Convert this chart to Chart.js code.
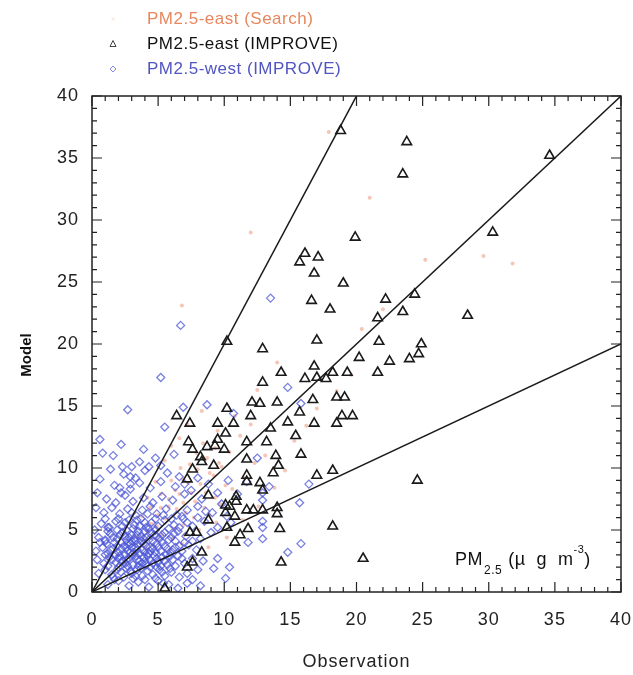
<!DOCTYPE html>
<html>
<head>
<meta charset="utf-8">
<script src="https://cdn.jsdelivr.net/npm/chart.js@4.4.0/dist/chart.umd.min.js"></script>
<style>
  html, body { margin: 0; padding: 0; background: #fff; }
</style>
</head>
<body>
<canvas id="grafico" width="633" height="675"></canvas>
<script>
// Dados (x = observação, y = modelo)
const eastImprove = [
  [18.8,37.2],[23.8,36.3],[34.6,35.2],[23.5,33.7],[19.9,28.6],[30.3,29.0],[16.1,27.3],[17.1,27.0],
  [15.7,26.6],[16.8,25.7],[19.0,24.9],[16.6,23.5],[18.0,22.8],[22.2,23.6],[24.4,24.0],[23.5,22.6],
  [21.6,22.1],[28.4,22.3],[17.0,20.3],[21.7,20.2],[24.9,20.0],[24.7,19.2],[24.0,18.8],[22.5,18.6],
  [20.2,18.9],[10.2,20.2],[12.9,19.6],[16.8,18.2],[14.3,17.7],[18.2,17.7],[19.3,17.7],[16.1,17.2],
  [17.0,17.3],[17.7,17.2],[21.6,17.7],[12.9,16.9],[12.1,15.3],[12.7,15.2],[14.0,15.3],[16.7,15.5],
  [18.5,15.7],[19.1,15.7],[15.7,14.5],[18.9,14.2],[19.7,14.2],[10.2,14.8],[6.4,14.2],[9.5,13.6],
  [10.7,13.6],[12.0,14.2],[14.8,13.7],[16.8,13.6],[18.5,13.6],[7.4,13.6],[10.1,12.8],[13.5,13.2],
  [15.4,12.6],[11.7,12.1],[13.2,12.1],[7.3,12.1],[7.6,11.5],[8.7,11.7],[9.3,11.8],[10.0,11.5],
  [8.2,10.9],[8.3,10.5],[11.7,10.7],[13.9,11.0],[15.8,11.1],[7.6,9.9],[9.2,10.2],[14.1,10.2],
  [13.7,9.6],[17.0,9.4],[18.2,9.8],[7.2,9.1],[11.7,9.4],[11.7,8.9],[12.7,8.8],[12.9,8.2],
  [10.9,7.7],[10.9,7.3],[8.8,7.8],[10.4,6.9],[11.7,6.6],[12.2,6.6],[12.9,6.6],[14.0,6.8],
  [14.0,6.3],[10.1,7.0],[18.2,5.3],[11.2,4.6],[11.8,5.1],[10.8,4.0],[14.2,5.1],[20.5,2.7],
  [8.3,3.2],[7.2,2.0],[7.6,2.4],[24.6,9.0],[10.1,6.4],[8.8,5.8],[10.2,5.2],[7.4,4.8],
  [7.9,4.8],[5.5,0.3],[14.3,2.4],[10.8,6.1],[9.5,12.3]
];

const westImprove = [
  // pontos afastados
  [13.5,23.7],[6.7,21.5],[5.2,17.3],[6.9,14.9],[8.7,15.1],[10.7,14.4],[5.5,13.3],[2.2,11.9],
  [4.8,10.8],[2.3,10.1],[3.0,10.1],[4.3,10.1],[2.9,9.3],[2.9,8.7],[2.1,8.4],[14.8,16.5],
  [15.8,15.2],[12.5,10.8],[10.3,9.0],[11.7,8.9],[13.4,8.5],[12.9,8.0],[12.9,7.4],[15.7,7.2],
  [16.4,8.7],[12.9,5.7],[12.9,5.2],[12.9,4.3],[11.8,4.0],[14.8,3.2],[15.8,3.9],[9.5,2.7],
  [9.2,1.9],[10.4,2.0],[10.1,1.1],[7.6,1.0],[8.2,0.5],[7.2,0.7],[1.2,5.2],[1.0,4.2],
  [0.6,4.0],[0.6,12.3],[0.8,11.2],[2.7,14.7],
  // nuvem principal
  [1.2,0.6],[2.0,0.9],[2.8,0.5],[3.5,0.8],[4.3,0.4],[5.0,0.9],[5.8,0.6],[6.5,0.3],[3.1,1.1],[1.6,1.2],
  [0.5,1.5],[1.0,1.8],[1.5,1.4],[2.2,1.6],[2.6,1.9],[3.0,1.5],[3.4,1.8],[3.8,1.3],[4.2,1.7],[4.6,1.4],
  [5.1,1.8],[5.5,1.3],[6.0,1.6],[6.6,1.2],[7.2,1.5],[8.0,1.8],[2.0,2.0],[4.9,2.0],
  [0.4,2.6],[0.9,2.3],[1.3,2.8],[1.8,2.4],[2.1,2.9],[2.5,2.3],[2.8,2.7],[3.1,2.2],[3.3,2.9],[3.6,2.5],
  [3.9,2.8],[4.1,2.2],[4.4,2.6],[4.7,2.9],[5.0,2.4],[5.3,2.8],[5.7,2.2],[6.1,2.6],[6.5,2.9],[7.0,2.3],
  [7.6,2.7],[8.4,2.5],[2.3,2.5],[3.0,3.0],[4.0,2.5],
  [0.3,3.3],[0.8,3.6],[1.2,3.1],[1.6,3.5],[2.0,3.2],[2.4,3.7],[2.7,3.3],[3.0,3.6],[3.2,3.2],[3.5,3.8],
  [3.8,3.4],[4.1,3.7],[4.3,3.1],[4.6,3.5],[4.9,3.9],[5.2,3.3],[5.5,3.7],[5.9,3.2],[6.3,3.6],[6.8,3.3],
  [7.3,3.8],[7.9,3.4],[2.2,3.5],[3.4,3.4],[2.9,3.9],[4.4,3.3],
  [0.5,4.4],[1.0,4.1],[1.4,4.7],[1.9,4.3],[2.3,4.8],[2.6,4.2],[3.0,4.6],[3.3,4.1],[3.7,4.5],[4.0,4.9],
  [4.3,4.2],[4.7,4.6],[5.1,4.3],[5.5,4.8],[6.0,4.4],[6.5,4.9],[7.1,4.5],[8.2,4.3],[9.0,4.8],[2.8,4.4],[3.5,4.9],
  [0.7,5.5],[1.3,5.2],[1.8,5.7],[2.3,5.3],[2.8,5.8],[3.2,5.4],[3.7,5.9],[4.1,5.2],[4.5,5.6],[5.0,5.3],
  [5.5,5.8],[6.2,5.4],[6.9,5.9],[7.6,5.3],[8.5,5.7],[9.5,5.2],
  [0.9,6.4],[1.5,6.8],[2.1,6.3],[2.7,6.7],[3.3,6.2],[3.8,6.6],[4.4,6.9],[4.9,6.3],[5.6,6.7],[6.4,6.2],
  [7.2,6.6],[8.0,6.9],[9.1,6.4],[10.2,6.1],
  [1.1,7.5],[1.8,7.2],[2.5,7.8],[3.1,7.3],[3.9,7.6],[4.6,7.2],[5.3,7.7],[6.1,7.4],[7.0,7.9],[8.3,7.5],[2.2,8.0],
  [1.7,8.6],[2.9,8.3],[3.6,8.8],[4.4,8.4],[5.2,8.9],[6.3,8.5],[7.5,8.2],[8.8,8.7],
  [2.4,9.5],[3.3,9.2],[5.7,9.6],[6.6,9.3],[4.0,9.8],
  // núcleo denso
  [1.7,1.0],[2.4,1.2],[3.3,1.3],[4.0,1.0],[4.8,1.1],[5.4,0.7],[2.9,1.7],[3.7,1.9],[4.4,2.0],[5.3,1.6],
  [5.9,1.9],[1.9,1.8],[1.2,2.1],[2.7,2.1],[3.5,2.1],[4.6,2.3],[5.2,2.1],[6.3,2.1],[1.5,2.6],[2.0,2.7],
  [2.6,2.6],[3.4,2.6],[3.8,2.3],[4.2,2.9],[4.9,2.7],[5.5,2.5],[5.9,2.9],[6.8,2.7],[1.0,3.0],[1.8,3.0],
  [2.5,3.0],[2.9,3.2],[3.6,3.1],[4.0,3.2],[4.8,3.2],[5.6,3.0],[6.1,3.4],[1.4,3.4],[1.9,3.7],[2.6,3.6],
  [3.3,3.6],[3.9,3.9],[4.4,3.6],[5.0,3.6],[5.7,3.5],[6.6,3.7],[1.1,3.9],[1.7,4.0],[2.2,4.0],[2.7,3.9],
  [3.2,4.3],[3.7,4.1],[4.1,4.4],[4.6,4.1],[5.3,4.0],[5.8,4.2],[6.3,4.1],[7.0,4.0],[1.6,4.4],[2.1,4.6],
  [2.5,4.5],[3.0,4.1],[3.4,4.6],[3.9,4.3],[4.5,4.8],[4.9,4.5],[5.3,4.6],[6.2,4.7],[7.6,4.1],[1.2,4.9],
  [1.9,5.0],[2.6,5.0],[3.1,5.1],[3.6,5.3],[4.3,5.1],[4.8,5.0],[5.8,5.1],[6.6,5.2],[2.0,5.9],[2.5,5.6],
  [3.4,5.8],[4.0,5.6],[4.8,5.9],[6.0,5.9],[7.2,5.6],[1.0,5.9],[3.0,6.4],[4.2,6.3],[5.4,6.2],[6.8,6.1],
  [8.0,6.0],[8.6,6.5],[9.8,7.1],[10.5,5.6],[11.0,7.9],[9.5,8.0],[8.0,9.2],[7.0,8.7],[1.4,9.9],[3.6,10.5],
  [5.2,10.2],[6.2,11.1],[3.9,11.5],[1.6,11.0],[0.4,8.0],[0.3,6.8],[0.2,5.0],[0.6,9.1]
];

const eastSearch = [
  [4.5,5.5],[5.2,6.8],[5.8,7.5],[6.3,8.2],[6.9,9.1],[7.4,10.3],[7.9,11.2],[8.4,12.0],[6.0,11.8],[6.6,12.4],
  [5.5,10.6],[4.8,8.9],[4.2,7.6],[3.8,6.1],[3.3,5.2],[7.1,6.4],[7.8,7.3],[8.6,8.0],[9.2,9.4],[9.8,10.1],
  [10.4,11.3],[11.2,12.6],[12.0,13.5],[8.9,6.2],[9.7,7.1],[10.6,8.3],[11.5,9.2],[12.3,10.4],[13.1,11.0],
  [6.2,5.1],[7.0,4.6],[8.1,5.0],[9.4,5.6],[5.0,4.2],[4.0,3.6],[3.2,3.0],[5.9,3.4],[6.8,3.9],[7.6,2.8],
  [8.8,3.6],[10.2,4.4],[11.4,5.8],[12.6,6.9],[13.8,8.4],[14.6,9.8],[15.3,12.2],[16.2,13.4],[17.0,14.8],
  [18.5,16.2],[19.6,17.5],[14.0,18.5],[12.5,16.3],[10.8,14.2],[9.5,13.0],[8.3,14.6],[7.2,13.5],
  [20.4,21.2],[22.0,22.8],[25.2,26.8],[29.6,27.1],[31.8,26.5],[6.8,23.1],[17.9,37.1],[12.0,29.0],[21.0,31.8],
  [3.5,4.5],[4.2,4.9],[4.9,5.3],[5.6,5.9],[6.4,6.7],[6.9,7.2],[7.5,8.0],[8.2,8.7],[8.9,9.6],[9.6,10.4],
  [5.0,6.2],[5.8,6.9],[6.6,7.9],[7.3,8.8],[8.0,9.9],[8.7,10.8],[9.3,11.6],[4.4,6.8],[5.2,7.9],[6.0,9.0],
  [6.7,10.0],[3.9,4.2],[4.6,3.8],[5.3,4.6],[6.1,4.3],[6.9,5.4],[7.7,6.0],[8.5,6.8],[9.3,7.6],[10.1,8.6]
];

// Eixos e linhas de referência (1:2, 1:1, 2:1)
const ticksEixo = [0, 5, 10, 15, 20, 25, 30, 35, 40];
const razoes = [2, 1, 0.5];
const legendaTextos = ['PM2.5-east (Search)', 'PM2.5-east (IMPROVE)', 'PM2.5-west (IMPROVE)'];
const legendaCores = ['#e8875e', '#111111', '#5055c0'];

const fonte = "'Liberation Sans', Arial, sans-serif";

function pontos(lista) {
  return lista.map(p => ({ x: p[0], y: p[1] }));
}

// Moldura, ticks internos, legenda e anotação
const molduraPlugin = {
  id: 'moldura',
  beforeDraw(chart) {
    chart.ctx.letterSpacing = '1px';
  },
  afterDraw(chart) {
    const ctx = chart.ctx;
    const a = chart.chartArea;
    const sx = chart.scales.x, sy = chart.scales.y;
    ctx.save();
    ctx.strokeStyle = '#222';
    ctx.lineWidth = 1.5;
    ctx.strokeRect(a.left, a.top, a.right - a.left, a.bottom - a.top);

    ctx.lineWidth = 1.2;
    ctx.beginPath();
    for (let v = 0; v <= 40; v++) {
      const len = v % 5 === 0 ? 10 : 5;
      const px = sx.getPixelForValue(v);
      ctx.moveTo(px, a.bottom); ctx.lineTo(px, a.bottom - len);
      ctx.moveTo(px, a.top); ctx.lineTo(px, a.top + len);
      const py = sy.getPixelForValue(v);
      ctx.moveTo(a.left, py); ctx.lineTo(a.left + len, py);
      ctx.moveTo(a.right, py); ctx.lineTo(a.right - len, py);
    }
    ctx.stroke();

    // título do eixo y
    ctx.save();
    ctx.translate(27, 355);
    ctx.rotate(-Math.PI / 2);
    ctx.font = 'bold 15px ' + fonte;
    ctx.letterSpacing = '0px';
    ctx.fillStyle = '#111';
    ctx.textAlign = 'center';
    ctx.textBaseline = 'middle';
    ctx.fillText('Model', 0, 0);
    ctx.restore();

    // legenda
    const ys = [19, 44, 69];
    ctx.font = '17px ' + fonte;
    ctx.letterSpacing = '0.5px';
    ctx.textBaseline = 'middle';
    ctx.textAlign = 'left';
    legendaTextos.forEach((t, i) => {
      ctx.fillStyle = legendaCores[i];
      ctx.fillText(t, 147, ys[i]);
    });
    ctx.fillStyle = 'rgba(240,170,130,0.25)';
    ctx.beginPath(); ctx.arc(113, ys[0], 1.5, 0, Math.PI * 2); ctx.fill();
    ctx.strokeStyle = '#444'; ctx.lineWidth = 1;
    ctx.beginPath();
    ctx.moveTo(113, ys[1] - 3.5); ctx.lineTo(116, ys[1] + 2.5); ctx.lineTo(110, ys[1] + 2.5); ctx.closePath();
    ctx.stroke();
    ctx.strokeStyle = 'rgba(80,90,215,0.7)';
    ctx.beginPath();
    ctx.moveTo(113, ys[2] - 3); ctx.lineTo(116, ys[2]); ctx.lineTo(113, ys[2] + 3); ctx.lineTo(110, ys[2]); ctx.closePath();
    ctx.stroke();

    // anotação PM2.5 (µ g m-3)
    ctx.fillStyle = '#111';
    ctx.textBaseline = 'alphabetic';
    ctx.letterSpacing = '0.5px';
    let x = 455;
    ctx.font = '18px ' + fonte;
    ctx.fillText('PM', x, 565); x += ctx.measureText('PM').width + 1;
    ctx.font = '12px ' + fonte;
    ctx.fillText('2.5', x, 574); x += ctx.measureText('2.5').width + 6;
    ctx.font = '18px ' + fonte;
    ctx.fillText('(\u00b5  g  m', x, 565); x += ctx.measureText('(\u00b5  g  m').width;
    ctx.font = '11px ' + fonte;
    ctx.fillText('-3', x, 553); x += ctx.measureText('-3').width;
    ctx.font = '18px ' + fonte;
    ctx.fillText(')', x, 565);
    ctx.restore();
  }
};

const datasets = [
  ...razoes.map(r => ({
    label: 'razao ' + r,
    data: [{ x: 0, y: 0 }, { x: 40, y: 40 * r }],
    showLine: true,
    pointRadius: 0,
    borderColor: '#1a1a1a',
    borderWidth: 1.5,
    order: 0
  })),
  {
    label: legendaTextos[1],
    data: pontos(eastImprove),
    pointStyle: 'triangle',
    pointRadius: 5.5,
    borderColor: '#1a1a1a',
    backgroundColor: 'rgba(0,0,0,0)',
    borderWidth: 1.6,
    order: 1
  },
  {
    label: legendaTextos[2],
    data: pontos(westImprove),
    pointStyle: 'rectRot',
    pointRadius: 4,
    borderColor: 'rgba(75,85,215,0.75)',
    backgroundColor: 'rgba(0,0,0,0)',
    borderWidth: 1.3,
    order: 2
  },
  {
    label: legendaTextos[0],
    data: pontos(eastSearch),
    pointStyle: 'circle',
    pointRadius: 2,
    borderWidth: 0,
    backgroundColor: 'rgba(235,140,110,0.5)',
    order: 3
  }
];

new Chart(document.getElementById('grafico'), {
  type: 'scatter',
  data: { datasets },
  options: {
    responsive: false,
    animation: false,
    layout: { padding: { left: 10, right: 0, top: 96, bottom: 0 } },
    plugins: { legend: { display: false }, tooltip: { enabled: false } },
    scales: {
      x: {
        type: 'linear', min: 0, max: 40,
        afterBuildTicks: s => { s.ticks = ticksEixo.map(v => ({ value: v })); },
        afterFit: s => { s.height = 83; s.paddingLeft = 0; s.paddingRight = 12; },
        ticks: { color: '#222', font: { family: fonte, size: 18 }, padding: 17, maxRotation: 0 },
        grid: { display: false, drawTicks: false },
        border: { display: false },
        title: { display: true, text: 'Observation', color: '#222', font: { family: fonte, size: 18 }, padding: { top: 0, bottom: 2 } }
      },
      y: {
        type: 'linear', min: 0, max: 40,
        afterBuildTicks: s => { s.ticks = ticksEixo.map(v => ({ value: v })); },
        afterFit: s => { s.width = 82; },
        ticks: { color: '#222', font: { family: fonte, size: 18 }, padding: 13 },
        grid: { display: false, drawTicks: false },
        border: { display: false }
      }
    }
  },
  plugins: [molduraPlugin]
});
</script>
</body>
</html>
